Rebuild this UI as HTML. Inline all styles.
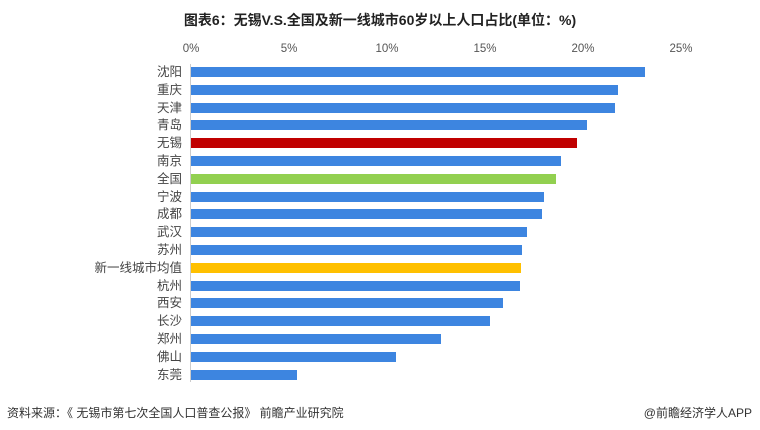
<!DOCTYPE html>
<html><head><meta charset="utf-8"><style>
body{margin:0;width:760px;height:430px;background:#fff;font-family:"Liberation Sans","Noto Sans CJK SC",sans-serif;position:relative;overflow:hidden}
.t{position:absolute;white-space:nowrap}
.bar{position:absolute;left:191px;height:10px}
.lab{position:absolute;right:578px;font-size:12.5px;color:#444;line-height:14px}
.tick{position:absolute;top:43px;font-size:11.5px;color:#555;transform:translateX(-50%)}
</style></head><body>
<div class="t" style="left:0;width:760px;text-align:center;top:10px;font-size:14px;font-weight:bold;color:#222">图表6：无锡V.S.全国及新一线城市60岁以上人口占比(单位：%)</div>
<div class="tick" style="left:191px">0%</div>
<div class="tick" style="left:289px">5%</div>
<div class="tick" style="left:387px">10%</div>
<div class="tick" style="left:485px">15%</div>
<div class="tick" style="left:583px">20%</div>
<div class="tick" style="left:681px">25%</div>
<div style="position:absolute;left:190px;top:64px;width:1px;height:318px;background:#ccc"></div>
<div id="c"></div>
<div class="t" style="left:7px;top:404px;font-size:12px;color:#333">资料来源：《 无锡市第七次全国人口普查公报》 前瞻产业研究院</div>
<div class="t" style="right:8px;top:404px;font-size:12px;color:#333">@前瞻经济学人APP</div>
<script>
var d=[["沈阳",645],["重庆",618],["天津",615],["青岛",587],["无锡",577,"#c00000"],["南京",561],["全国",556,"#92d050"],["宁波",544],["成都",542],["武汉",527],["苏州",522],["新一线城市均值",521,"#ffc000"],["杭州",520],["西安",503],["长沙",490],["郑州",441],["佛山",396],["东莞",297]];
var h="";d.forEach(function(r,i){var y=67+i*17.8;h+='<div class="bar" style="top:'+y+'px;width:'+(r[1]-191)+'px;background:'+(r[2]||"#3d85e0")+'"></div><div class="lab" style="top:'+(y-2)+'px">'+r[0]+'</div>';});
document.getElementById("c").innerHTML=h;
</script>
</body></html>
